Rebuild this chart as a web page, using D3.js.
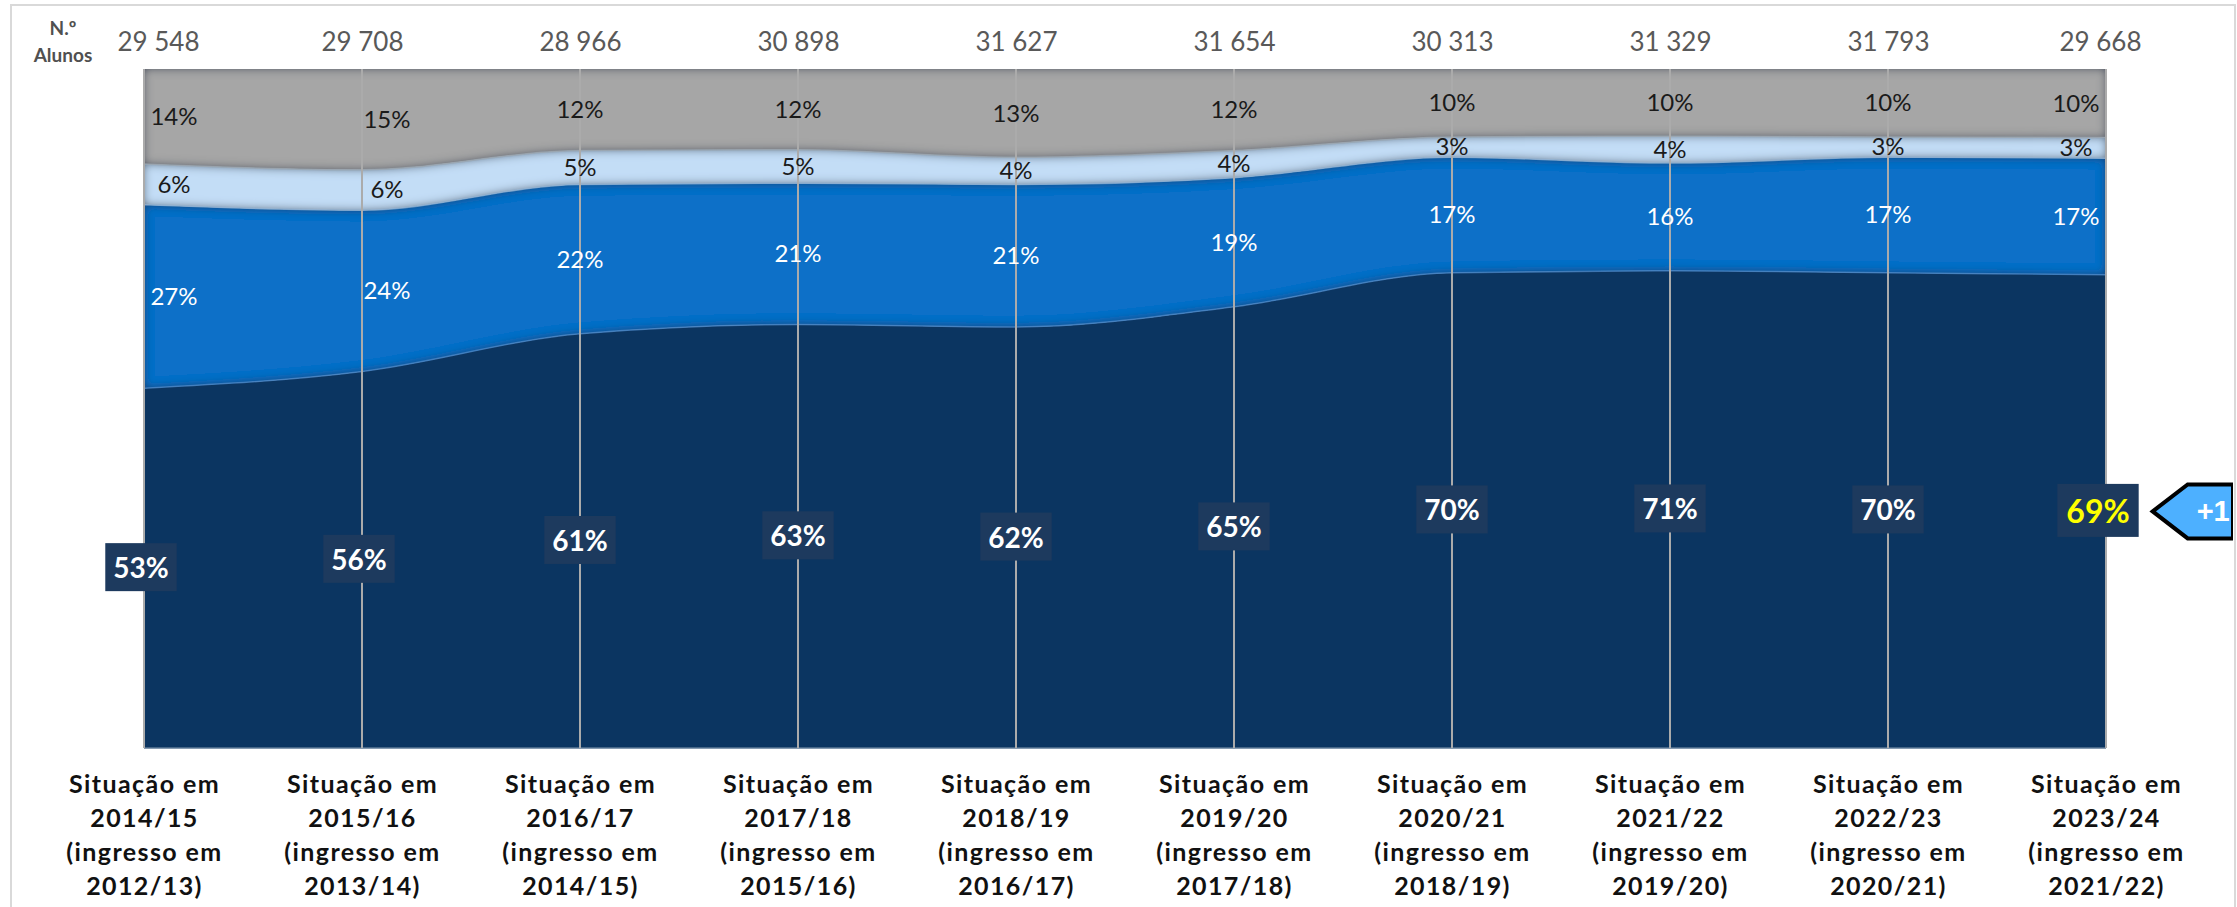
<!DOCTYPE html>
<html>
<head>
  <meta charset="utf-8">
  <title>Situação dos alunos por ano de ingresso</title>
  <style>
    body { margin: 0; background: #fff; }
    svg { display: block; }
  </style>
</head>
<body>
  <svg id="chart"></svg>

  <script src="https://cdnjs.cloudflare.com/ajax/libs/d3/7.8.5/d3.min.js"></script>
  <script>
    // ---- data ----
    const anosSituacao = ["2014/15", "2015/16", "2016/17", "2017/18", "2018/19", "2019/20", "2020/21", "2021/22", "2022/23", "2023/24"];
    const anosIngresso = ["2012/13", "2013/14", "2014/15", "2015/16", "2016/17", "2017/18", "2018/19", "2019/20", "2020/21", "2021/22"];
    const totalAlunos = [29548, 29708, 28966, 30898, 31627, 31654, 30313, 31329, 31793, 29668];

    // stacked bottom -> top (percent)
    const serie1 = [53, 56, 61, 63, 62, 65, 70, 71, 70, 69];
    const serie2 = [27, 24, 22, 21, 21, 19, 17, 16, 17, 17];
    const serie3 = [6, 6, 5, 5, 4, 4, 3, 4, 3, 3];
    const serie4 = [14, 15, 12, 12, 13, 12, 10, 10, 10, 10];
    const variacao = "+1";

    // ---- layout ----
    const W = 2237, H = 907;
    const plot = { left: 144, right: 2106, top: 69, bottom: 748 };
    // small horizontal nudges Excel applied to the labels at the ends
    const nudgeBand = [30, 25, 0, 0, 0, 0, 0, 0, 0, -30];
    const nudgeBox = [-3, -3, 0, 0, 0, 0, 0, 0, 0, -8];

    const keys = ["s1", "s2", "s3", "s4"];
    const fills = { s1: "#0B3561", s2: "#1070C8", s3: "#C3DDF6", s4: "#A6A6A6" };
    const topStroke = { s1: "#4A86C6", s2: "#8FB0D2", s3: "#9AA6B2", s4: "none" };
    const labelColor = { s2: "#ffffff", s3: "#1a1a1a", s4: "#1a1a1a" };

    const rows = anosSituacao.map((c, i) => ({
      cat: c, s1: serie1[i], s2: serie2[i], s3: serie3[i], s4: serie4[i]
    }));
    const pct = { s1: serie1, s2: serie2, s3: serie3, s4: serie4 };

    const svg = d3.select("#chart")
      .attr("width", W).attr("height", H)
      .attr("viewBox", [0, 0, W, H])
      .style("font-family", "Lato, 'Open Sans', sans-serif");

    const defs = svg.append("defs");

    /** inner shadow like the Excel bevel */
    const f = defs.append("filter").attr("id", "inner")
      .attr("x", "-5%").attr("y", "-20%").attr("width", "110%").attr("height", "140%");
    f.append("feComponentTransfer").attr("in", "SourceAlpha").attr("result", "inv")
      .append("feFuncA").attr("type", "table").attr("tableValues", "1 0");
    f.append("feGaussianBlur").attr("in", "inv").attr("stdDeviation", 5).attr("result", "blur");
    f.append("feFlood").attr("flood-color", "#1c3350").attr("flood-opacity", 0.95);
    f.append("feComposite").attr("in2", "blur").attr("operator", "in").attr("result", "sh");
    f.append("feComposite").attr("in", "sh").attr("in2", "SourceAlpha").attr("operator", "in").attr("result", "inner");
    const m = f.append("feMerge");
    m.append("feMergeNode").attr("in", "SourceGraphic");
    m.append("feMergeNode").attr("in", "inner");

    defs.append("clipPath").attr("id", "frameClip")
      .append("rect").attr("x", 0).attr("y", 0).attr("width", 2233).attr("height", H);

    /** scales */
    const x = d3.scalePoint().domain(anosSituacao).range([plot.left, plot.right]);
    const y = d3.scaleLinear().domain([0, 1]).range([plot.bottom, plot.top]);

    const stacked = d3.stack().keys(keys).offset(d3.stackOffsetExpand)(rows);

    const area = d3.area()
      .x(d => x(d.data.cat))
      .y0(d => y(d[0]))
      .y1(d => y(d[1]))
      .curve(d3.curveMonotoneX);

    const topLine = d3.line()
      .x(d => x(d.data.cat))
      .y(d => y(d[1]))
      .curve(d3.curveMonotoneX);

    /** areas */
    const gArea = svg.append("g");
    gArea.selectAll("path.area")
      .data(stacked)
      .join("path")
      .attr("class", "area")
      .attr("d", area)
      .attr("fill", d => fills[d.key])
      .attr("filter", d => d.key === "s1" ? null : "url(#inner)");

    gArea.selectAll("path.edge")
      .data(stacked.filter(s => s.key !== "s4"))
      .join("path")
      .attr("class", "edge")
      .attr("d", topLine)
      .attr("fill", "none")
      .attr("stroke", d => topStroke[d.key])
      .attr("stroke-width", 1.5)
      .attr("opacity", 0.8);

    // plot bottom edge
    svg.append("line")
      .attr("x1", plot.left).attr("x2", plot.right)
      .attr("y1", plot.bottom).attr("y2", plot.bottom)
      .attr("stroke", "#5d7896").attr("stroke-width", 1.5);

    /** vertical gridlines */
    svg.append("g")
      .selectAll("line")
      .data(anosSituacao)
      .join("line")
      .attr("x1", d => x(d)).attr("x2", d => x(d))
      .attr("y1", y(1)).attr("y2", y(0))
      .attr("stroke", "#ababab")
      .attr("stroke-width", 2);

    /** band labels (upper three series) */
    const gLab = svg.append("g");
    stacked.filter(s => s.key !== "s1").forEach(s => {
      gLab.selectAll(null)
        .data(s)
        .join("text")
        .attr("x", (d, i) => x(d.data.cat) + nudgeBand[i])
        .attr("y", d => y((d[0] + d[1]) / 2))
        .attr("dy", "0.35em")
        .attr("text-anchor", "middle")
        .attr("font-size", 24)
        .attr("fill", labelColor[s.key])
        .text((d, i) => pct[s.key][i] + "%");
    });

    /** boxed labels of the bottom series */
    const last = anosSituacao.length - 1;
    const gBox = svg.append("g");
    const boxes = gBox.selectAll("g")
      .data(stacked[0])
      .join("g")
      .attr("transform", (d, i) => `translate(${x(d.data.cat) + nudgeBox[i]},${y((d[0] + d[1]) / 2)})`);
    boxes.append("rect").attr("fill", "#1D3A5E");
    boxes.append("text")
      .attr("text-anchor", "middle")
      .attr("dy", "0.36em")
      .attr("font-weight", 700)
      .attr("font-size", (d, i) => i === last ? 32 : 28)
      .attr("fill", (d, i) => i === last ? "#FFFF00" : "#ffffff")
      .text((d, i) => serie1[i] + "%");
    boxes.each(function (d, i) {
      const g = d3.select(this);
      const bb = g.select("text").node().getBBox();
      const px = i === last ? 9 : 8, py = 7;
      g.select("rect")
        .attr("x", bb.x - px).attr("y", bb.y - py)
        .attr("width", bb.width + 2 * px).attr("height", bb.height + 2 * py);
    });

    /** arrow callout on the right */
    const lastBox = boxes.filter((d, i) => i === last);
    const lb = lastBox.select("rect").node().getBBox();
    const lastY = y((stacked[0][last][0] + stacked[0][last][1]) / 2);
    const tipX = x(anosSituacao[last]) + nudgeBox[last] + lb.x + lb.width + 14;
    const gArrow = svg.append("g").attr("clip-path", "url(#frameClip)");
    gArrow.append("path")
      .attr("d", `M${tipX},${lastY} L${tipX + 35},${lastY - 27} L2233,${lastY - 27} L2233,${lastY + 27} L${tipX + 35},${lastY + 27} Z`)
      .attr("fill", "#4DB0FF")
      .attr("stroke", "#000")
      .attr("stroke-width", 4)
      .attr("stroke-linejoin", "miter");
    gArrow.append("text")
      .attr("x", tipX + 44).attr("y", lastY + 10)
      .attr("font-family", "'Liberation Sans', Arial, sans-serif")
      .attr("font-weight", 700).attr("font-size", 29)
      .attr("fill", "#fff")
      .text(variacao);

    /** top axis: number of students */
    const pt = d3.formatLocale({ decimal: ",", thousands: " ", grouping: [3], currency: ["", " €"] });
    const fmt = pt.format(",d");
    const topAxis = svg.append("g")
      .attr("transform", `translate(0,51)`)
      .call(d3.axisTop(x).tickSize(0).tickPadding(0).tickFormat((d, i) => fmt(totalAlunos[i])));
    topAxis.select(".domain").remove();
    topAxis.selectAll("text")
      .attr("dy", 0)
      .attr("dx", (d, i) => i === 0 ? 14 : (i === last ? -6 : 0))
      .attr("font-family", "Lato, sans-serif")
      .attr("font-size", 26)
      .attr("fill", "#595959");

    svg.append("text")
      .attr("x", 63).attr("text-anchor", "middle")
      .attr("font-weight", 700).attr("font-size", 19).attr("fill", "#505050")
      .call(t => t.append("tspan").attr("x", 63).attr("y", 35).text("N.º"))
      .call(t => t.append("tspan").attr("x", 63).attr("y", 62).text("Alunos"));

    /** bottom axis: multi-line categories */
    const bottomAxis = svg.append("g")
      .attr("transform", `translate(0,${plot.bottom})`)
      .call(d3.axisBottom(x).tickSize(0).tickFormat(""));
    bottomAxis.select(".domain").remove();
    bottomAxis.selectAll(".tick text").remove();
    bottomAxis.selectAll(".tick")
      .append("text")
      .attr("text-anchor", "middle")
      .attr("font-family", "Lato, sans-serif")
      .attr("font-weight", 700)
      .attr("font-size", 25)
      .attr("letter-spacing", 1.4)
      .attr("fill", "#111")
      .each(function (d, i) {
        const lines = ["Situação em", anosSituacao[i], "(ingresso em", anosIngresso[i] + ")"];
        d3.select(this).selectAll("tspan")
          .data(lines)
          .join("tspan")
          .attr("x", 0)
          .attr("y", (l, j) => 45 + j * 34)
          .text(l => l);
      });

    /** chart frame */
    svg.append("rect")
      .attr("x", 11).attr("y", 5)
      .attr("width", 2224).attr("height", H + 20)
      .attr("fill", "none")
      .attr("stroke", "#d9d9d9")
      .attr("stroke-width", 2);
  </script>
</body>
</html>
